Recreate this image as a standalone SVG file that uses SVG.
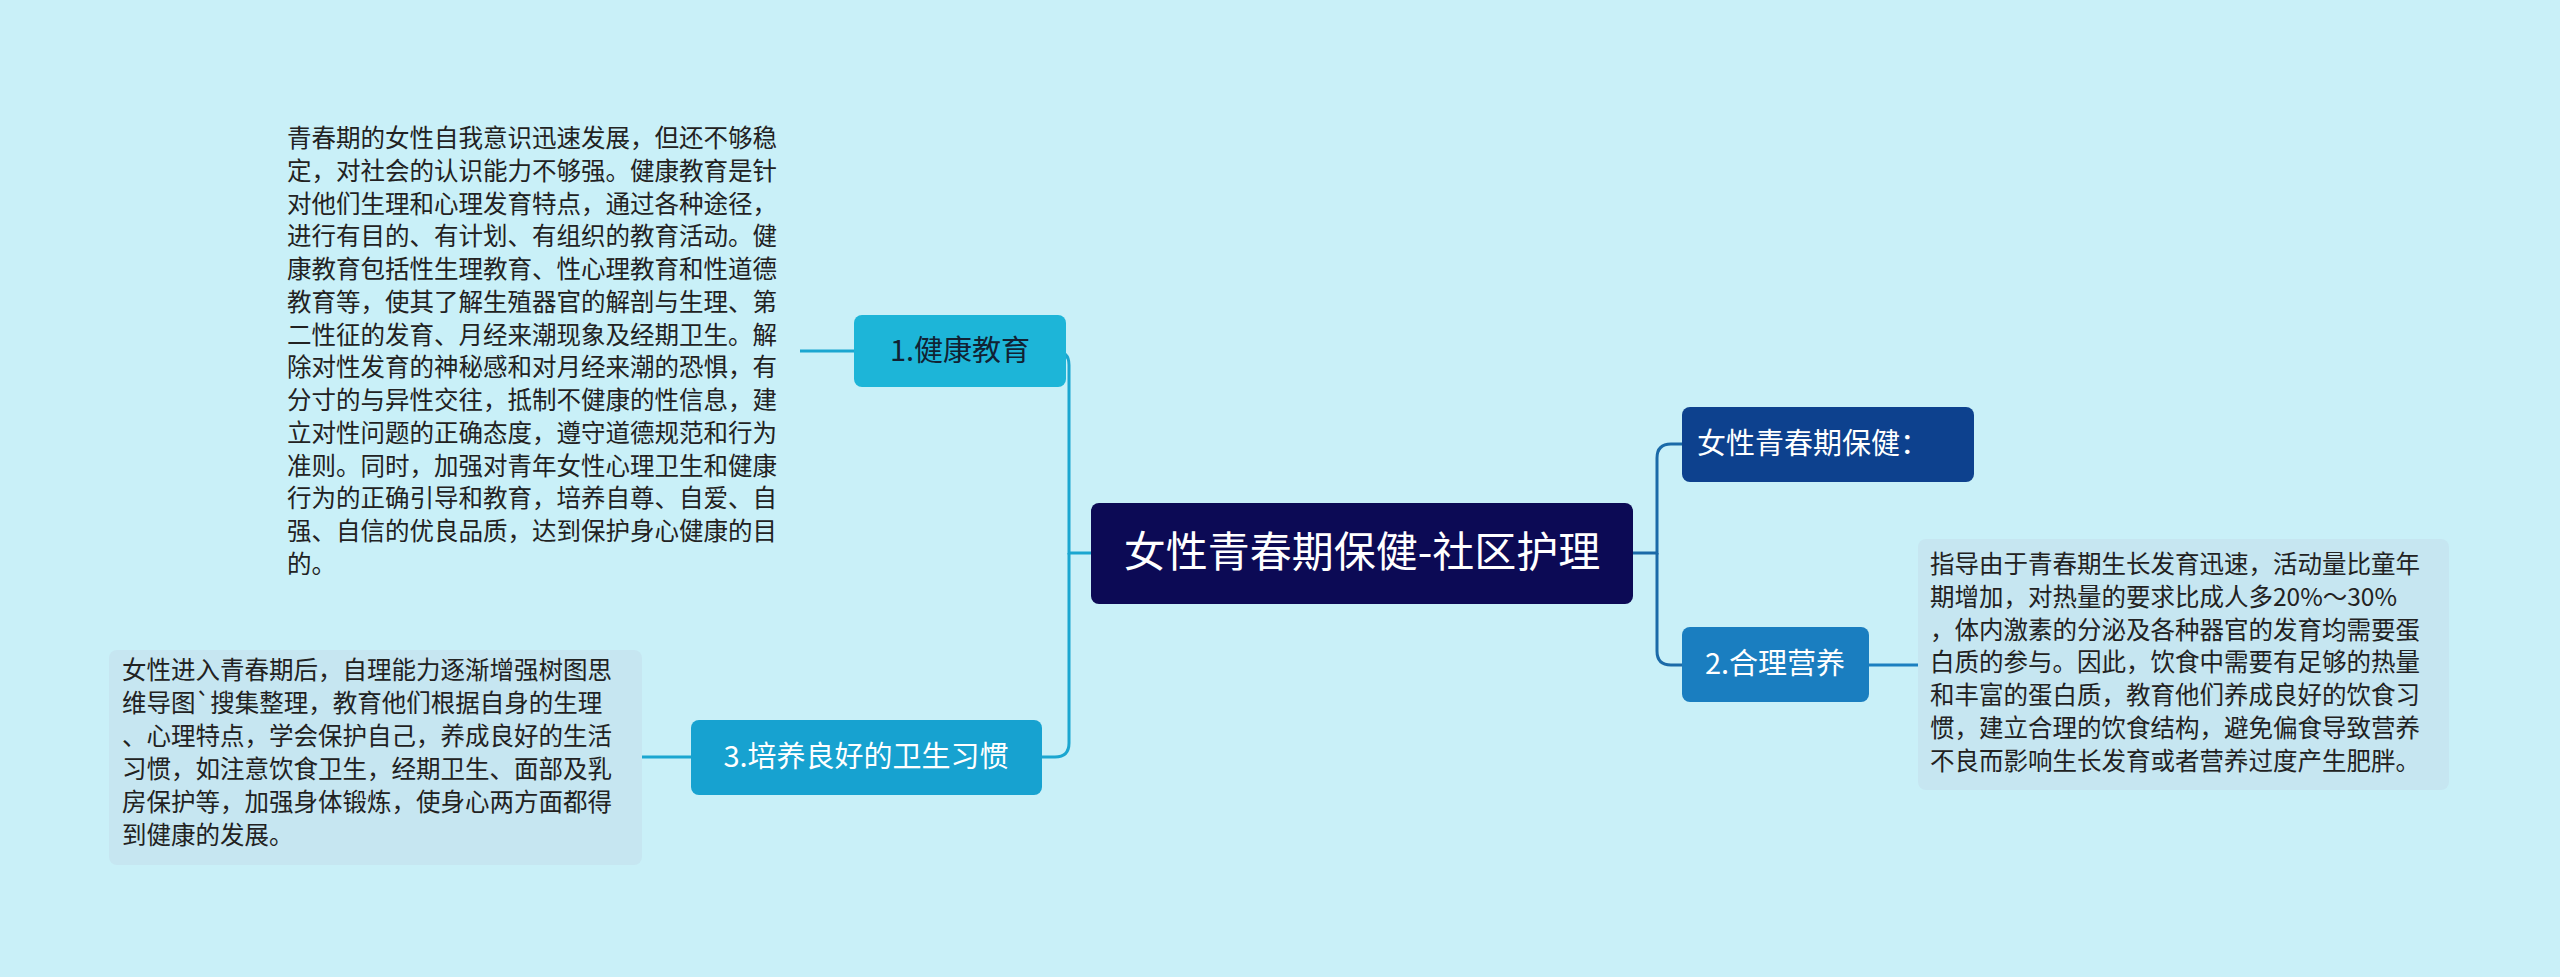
<svg xmlns="http://www.w3.org/2000/svg" width="2560" height="977" viewBox="0 0 2560 977">
<style>
.t{font-family:"Noto Sans CJK SC","Liberation Sans",sans-serif;}
.body{font-size:24.5px;fill:#222;}
.nl{font-size:29px;fill:#fff;}
.c{fill:none;stroke-width:3;}
</style>
<rect width="2560" height="977" fill="#c9f0f8"/>
<g id="connectors">
<path class="c" stroke="#1ba6d0" d="M1091,553 H1069 V365 Q1069,351 1055,351 H1066"/>
<path class="c" stroke="#1ba6d0" d="M1069,553 V743 Q1069,757 1055,757 H1042"/>
<path class="c" stroke="#1ba6d0" d="M854,351 H800"/>
<path class="c" stroke="#1ba6d0" d="M691,757 H642"/>
<path class="c" stroke="#1b6aa8" d="M1633,553 H1657 V458 Q1657,444 1671,444 H1682"/>
<path class="c" stroke="#1b6aa8" d="M1657,553 V651 Q1657,665 1671,665 H1682"/>
<path class="c" stroke="#1b7fc0" d="M1869,665 H1918"/>
</g>
<g id="center"><rect x="1091" y="503" width="542" height="101" rx="8" fill="#0c0a55"/>
<text class="t" x="1362" y="567" font-size="42" fill="#fff" text-anchor="middle">女性青春期保健-社区护理</text></g>
<g id="n1"><rect x="854" y="315" width="212" height="72" rx="8" fill="#1db5d8"/>
<text class="t nl" x="960" y="361" text-anchor="middle" fill="#1a2a3a" style="fill:#123">1.健康教育</text></g>
<g id="n3"><rect x="691" y="720" width="351" height="75" rx="8" fill="#17a2d0"/>
<text class="t nl" x="866" y="767" text-anchor="middle">3.培养良好的卫生习惯</text></g>
<g id="n0"><rect x="1682" y="407" width="292" height="75" rx="8" fill="#0d418e"/>
<text class="t nl" x="1697" y="454">女性青春期保健：</text></g>
<g id="n2"><rect x="1682" y="627" width="187" height="75" rx="8" fill="#1a7ec0"/>
<text class="t nl" x="1775" y="674" text-anchor="middle">2.合理营养</text></g>
<g id="d1"><text class="t body">
<tspan x="287" y="147">青春期的女性自我意识迅速发展，但还不够稳</tspan>
<tspan x="287" y="180">定，对社会的认识能力不够强。健康教育是针</tspan>
<tspan x="287" y="213">对他们生理和心理发育特点，通过各种途径，</tspan>
<tspan x="287" y="245">进行有目的、有计划、有组织的教育活动。健</tspan>
<tspan x="287" y="278">康教育包括性生理教育、性心理教育和性道德</tspan>
<tspan x="287" y="311">教育等，使其了解生殖器官的解剖与生理、第</tspan>
<tspan x="287" y="344">二性征的发育、月经来潮现象及经期卫生。解</tspan>
<tspan x="287" y="376">除对性发育的神秘感和对月经来潮的恐惧，有</tspan>
<tspan x="287" y="409">分寸的与异性交往，抵制不健康的性信息，建</tspan>
<tspan x="287" y="442">立对性问题的正确态度，遵守道德规范和行为</tspan>
<tspan x="287" y="475">准则。同时，加强对青年女性心理卫生和健康</tspan>
<tspan x="287" y="507">行为的正确引导和教育，培养自尊、自爱、自</tspan>
<tspan x="287" y="540">强、自信的优良品质，达到保护身心健康的目</tspan>
<tspan x="287" y="573">的。</tspan></text></g>
<g id="d3"><rect x="109" y="650" width="533" height="215" rx="8" fill="#c6e6f1"/>
<text class="t body">
<tspan x="122" y="679">女性进入青春期后，自理能力逐渐增强树图思</tspan>
<tspan x="122" y="712">维导图`搜集整理，教育他们根据自身的生理</tspan>
<tspan x="122" y="745">、心理特点，学会保护自己，养成良好的生活</tspan>
<tspan x="122" y="778">习惯，如注意饮食卫生，经期卫生、面部及乳</tspan>
<tspan x="122" y="811">房保护等，加强身体锻炼，使身心两方面都得</tspan>
<tspan x="122" y="844">到健康的发展。</tspan></text></g>
<g id="d2"><rect x="1918" y="539" width="531" height="251" rx="8" fill="#c6e6f1"/>
<text class="t body">
<tspan x="1930" y="573">指导由于青春期生长发育迅速，活动量比童年</tspan>
<tspan x="1930" y="606">期增加，对热量的要求比成人多20%～30%</tspan>
<tspan x="1930" y="639">，体内激素的分泌及各种器官的发育均需要蛋</tspan>
<tspan x="1930" y="671">白质的参与。因此，饮食中需要有足够的热量</tspan>
<tspan x="1930" y="704">和丰富的蛋白质，教育他们养成良好的饮食习</tspan>
<tspan x="1930" y="737">惯，建立合理的饮食结构，避免偏食导致营养</tspan>
<tspan x="1930" y="770">不良而影响生长发育或者营养过度产生肥胖。</tspan></text></g>
</svg>
